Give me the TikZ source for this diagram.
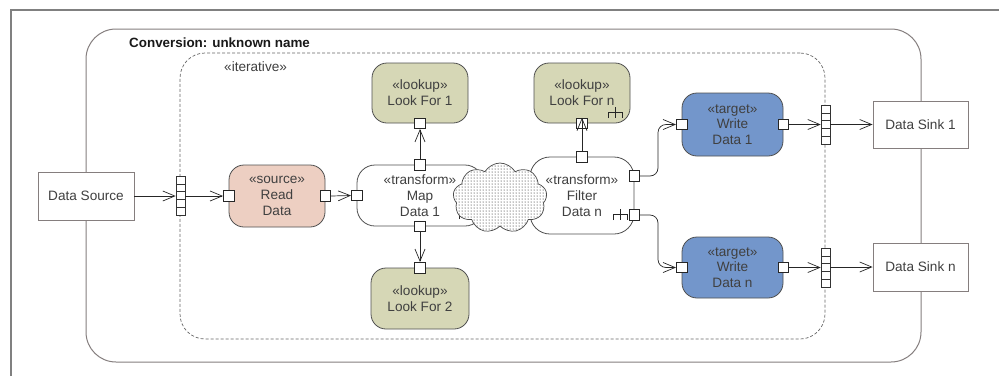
\documentclass[tikz,border=0pt]{standalone}
\usepackage{fontspec}
\setmainfont{Liberation Sans}
\usetikzlibrary{arrows.meta,shapes.symbols,patterns,calc}
\definecolor{srcfill}{HTML}{EDCFC2}
\definecolor{lkfill}{HTML}{D6D7B6}
\definecolor{tgtfill}{HTML}{7396CB}
\definecolor{txt}{HTML}{404040}
\definecolor{edgec}{HTML}{505050}
\definecolor{grayline}{HTML}{857E7E}
\begin{document}
\begin{tikzpicture}[x=1pt,y=-1pt,
  font=\fontsize{13.6}{15.8}\selectfont,
  act/.style={draw=edgec, line width=0.8, rounded corners=15, align=center, text=txt, inner sep=0},
  box/.style={draw=grayline, fill=white, line width=0.8, text=txt, inner sep=0},
  port/.style={draw=black!85, fill=white, line width=0.7, minimum size=10.5, inner sep=0},
  arr/.style={-{Straight Barb[length=12pt,width=10pt]}, draw=black!85, line width=0.7},
  strip/.style={draw=black!80, fill=white, minimum width=9, minimum height=39, inner sep=0, line width=0.6,
    path picture={\foreach \i in {1,...,4}{\draw[black!80, line width=0.6]
      ($(path picture bounding box.north west)!\i/5!(path picture bounding box.south west)$) --
      ($(path picture bounding box.north east)!\i/5!(path picture bounding box.south east)$);}}},
  rakesym/.pic={\draw[black!85, line width=0.7] (0,-5) -- (0,6) (-7,6) -- (-7,0) -- (7,0) -- (7,6);}
]
\useasboundingbox[fill=white] (0,0) rectangle (999,376);
% outer frame
\draw[black!50, line width=1.6] (11,376) -- (11,10) -- (999,10);
% containers
\node[draw=grayline, line width=1, rounded corners=30, minimum width=835, minimum height=333, inner sep=0] (conv) at (503.5,195.5) {};
\node[anchor=west, font=\fontsize{13.4}{16}\selectfont\bfseries, text=black!90, inner sep=0] (title) at (129,43) {Conversion: unknown name};
\node[draw=black!60, line width=0.7, dash pattern=on 3pt off 2pt, rounded corners=25, minimum width=645, minimum height=286, inner sep=0] (iter) at (502.5,196) {};
\node[anchor=west, text=txt, inner sep=0] (itlbl) at (224,67) {«iterative»};
% external boxes
\node[box, minimum width=96, minimum height=48] (ds) at (86,196) {Data Source};
\node[box, minimum width=95, minimum height=47] (sink1) at (920.5,124.5) {Data Sink 1};
\node[box, minimum width=95, minimum height=48] (sinkn) at (920.5,267) {Data Sink n};
% strips
\node[strip] (stripL) at (180.5,195.5) {};
\node[strip] (stripR1) at (825.5,124.5) {};
\node[strip] (stripRn) at (825.5,267.5) {};
% activity nodes
\node[act, fill=srcfill, minimum width=96, minimum height=62] (rd) at (277,196) {«source»\\Read\\Data};
\node[act, fill=white, rounded corners=18, minimum width=126, minimum height=61] (map) at (420,195.5) {«transform»\\Map\\Data 1};
\node[act, fill=lkfill, minimum width=96, minimum height=60] (lf1) at (420,93) {«lookup»\\Look For 1};
\node[act, fill=lkfill, minimum width=98, minimum height=61] (lf2) at (420,298.5) {«lookup»\\Look For 2};
\node[act, fill=white, rounded corners=20, minimum width=104, minimum height=77] (filt) at (582,195.5) {«transform»\\Filter\\Data n};
\node[act, fill=lkfill, minimum width=96, minimum height=60] (lfn) at (582,93) {«lookup»\\Look For n};
\node[act, fill=tgtfill, minimum width=101, minimum height=63] (w1) at (732.5,124.5) {«target»\\Write\\Data 1};
\node[act, fill=tgtfill, minimum width=101, minimum height=61] (wn) at (732.5,267.5) {«target»\\Write\\Data n};
% rake symbols
\pic at (615,112) {rakesym};
\pic at (620,214) {rakesym};
\pic at (466,213) {rakesym};
% ports
\node[port] (rdL) at (rd.west) {};
\node[port] (rdR) at (rd.east) {};
\node[port] (mapL) at (map.west) {};
\node[port] (mapT) at (map.north) {};
\node[port] (mapB) at (map.south) {};
\node[port] (lf1P) at (lf1.south) {};
\node[port] (lf2P) at (lf2.south |- lf2.north) {};
\node[port] (filtT) at (filt.north) {};
\node[port] (filtR1) at ($(filt.east)+(0,-19.5)$) {};
\node[port] (filtR2) at ($(filt.east)+(0,19.5)$) {};
\node[port] (lfnP) at (lfn.south) {};
\node[port] (w1L) at (w1.west) {};
\node[port] (w1R) at (w1.east) {};
\node[port] (wnL) at (wn.west) {};
\node[port] (wnR) at (wn.east) {};
\coordinate (bendx) at (658,0);
% connectors
\draw[arr] (ds.east) -- (stripL.west |- ds.east);
\draw[arr] (stripL.east |- rdL) -- (rdL.west);
\draw[arr] (rdR.east) -- (mapL.west);
\draw[arr] (mapT.north) -- (lf1P.south);
\draw[arr] (mapB.south) -- (lf2P.north);
\draw[arr] (filtT.north) -- (lfnP.north);
\draw[arr, rounded corners=8] (filtR1.east) -| (bendx |- w1L) -- (w1L.west);
\draw[arr, rounded corners=8] (filtR2.east) -| (bendx |- wnL) -- (wnL.west);
\draw[arr] (w1R.east) -- (stripR1.west |- w1R);
\draw[arr] (stripR1.east |- sink1.west) -- (sink1.west);
\draw[arr] (wnR.east) -- (stripRn.west |- wnR);
\draw[arr] (stripRn.east |- sinkn.west) -- (sinkn.west);
% cloud
\node[cloud, cloud puffs=9, cloud puff arc=120, cloud ignores aspect, minimum width=94, minimum height=70,
  draw=black!70, line width=0.7, preaction={fill=white}, pattern=dots, pattern color=black] (cloud) at (500,198) {};
\end{tikzpicture}
\end{document}
